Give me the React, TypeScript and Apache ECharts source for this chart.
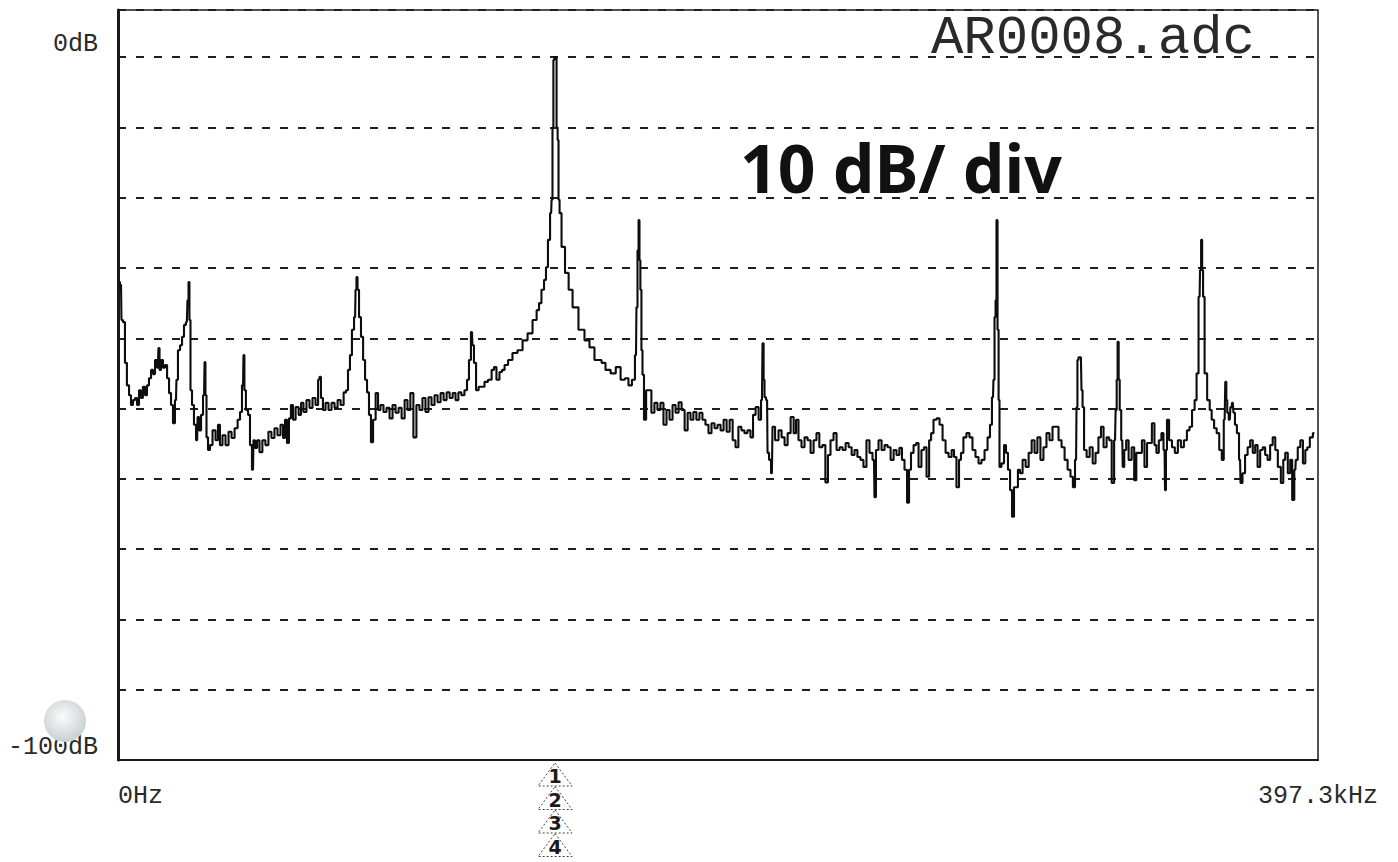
import React, { useEffect, useRef } from "react";
import * as echarts from "echarts";

// Spectrum trace: frequency (kHz) and level (dB)
const freqKHz = [
  0.3, 1.0, 1.3, 2.0, 2.6, 3.3, 4.0, 4.6, 5.3, 6.0, 6.6, 7.3, 7.9, 8.6, 9.3, 9.9, 10.6, 11.3, 11.9, 12.6,
  13.2, 13.6, 13.9, 14.6, 15.2, 15.9, 16.6, 17.2, 17.9, 18.5, 19.2, 19.5, 20.2, 20.9, 21.5, 22.2, 22.8, 23.2, 23.5, 23.8,
  24.2, 24.8, 25.5, 26.2, 26.5, 27.2, 27.8, 28.5, 28.8, 29.1, 29.5, 30.1, 30.8, 31.8, 32.8, 33.4, 34.1, 35.1, 36.1, 37.1,
  38.1, 39.1, 40.1, 40.7, 41.4, 41.7, 42.0, 42.7, 43.4, 44.0, 44.7, 45.0, 45.7, 46.4, 47.3, 48.3, 49.3, 50.3, 51.3, 52.3,
  53.3, 54.3, 55.0, 55.6, 56.3, 56.9, 57.6, 58.3, 59.3, 60.3, 60.9, 61.9, 62.9, 63.9, 64.9, 65.9, 66.6, 66.9, 67.5, 68.2,
  69.2, 70.2, 71.2, 72.2, 73.2, 74.2, 75.2, 75.8, 76.5, 77.1, 77.8, 78.5, 78.8, 79.1, 79.5, 80.1, 80.8, 81.5, 82.1, 82.8,
  83.4, 84.1, 84.8, 85.8, 86.4, 87.4, 88.4, 89.4, 90.4, 91.4, 92.4, 93.4, 94.4, 95.4, 96.3,
  97.3, 98.3, 99.3, 100.3, 101.3, 102.3, 103.3, 104.3, 105.3, 106.3, 107.3, 108.3, 109.3, 110.3, 111.3, 112.2, 113.2, 114.2, 115.2, 115.9,
  116.5, 117.2, 117.5, 118.2, 118.9, 119.9, 120.9, 121.8, 123.2, 124.2, 124.8, 125.8, 126.8, 127.5, 128.5, 129.8, 131.4, 133.1, 134.8, 136.4,
  138.1, 139.1, 139.7, 140.7, 141.4, 142.0, 142.7, 143.4, 143.7, 144.0, 144.3, 144.7, 145.0, 145.4, 145.7, 146.0, 146.4, 147.3, 148.7, 149.7,
  151.3, 153.6, 155.3, 156.9, 158.6, 159.6, 160.6, 162.2, 164.0, 165.6, 167.2, 168.5, 169.5, 170.8, 171.5, 171.8, 172.2, 172.5, 172.8, 173.1,
  173.5, 173.8, 174.5, 175.2,
  176.1, 177.1, 178.1, 179.1, 180.1, 181.1, 182.1, 183.1, 184.1, 185.1, 186.1, 187.1, 188.1, 189.1, 190.0, 191.0, 192.0, 193.0, 194.0, 195.0,
  196.0, 197.0, 198.0, 199.0, 200.0, 201.0, 202.0, 203.0, 204.0, 204.9, 205.9, 206.9, 207.9, 208.9, 209.9, 210.6, 211.6, 212.6, 213.2, 213.6,
  213.9, 214.2, 214.9, 215.2, 215.9, 216.5, 216.9, 218.2, 219.2, 220.2, 221.2, 222.2, 223.2, 224.2, 224.8, 225.8, 226.8, 227.8, 228.8, 229.8,
  230.8, 231.7, 232.7, 233.7, 234.7, 235.4, 236.4, 237.4, 238.4, 239.4, 240.4, 241.4, 242.4, 243.4, 244.3, 245.3, 246.3, 247.3, 248.3, 249.3,
  250.3, 250.6, 251.3, 252.3, 253.3, 254.3, 255.3, 256.3, 257.3, 258.2,
  259.2, 259.9, 260.9, 261.6, 262.2, 262.9, 263.9, 264.6, 265.5, 266.5, 267.2, 268.2, 268.9, 269.5, 270.5, 271.5, 272.5, 273.5, 274.5, 275.5,
  276.5, 277.1, 278.1, 278.8, 279.4, 280.4, 281.4, 282.4, 283.4, 284.4, 285.4, 286.4, 287.4, 288.4, 289.0, 289.7, 290.0, 290.4, 290.7, 291.0,
  291.4, 291.7, 292.0, 293.0, 293.7, 294.3, 295.0, 295.7, 296.3, 297.0, 297.6, 298.3, 299.0, 300.0, 301.0, 302.0, 303.0, 303.9, 304.9, 305.9,
  306.9, 307.9, 308.9, 309.9, 310.9, 311.9, 312.9, 313.9, 314.9, 315.8, 316.5, 317.2, 317.5, 317.8, 318.2, 318.8, 319.2, 319.5, 320.2, 321.2,
  322.2, 323.2, 324.1, 325.1, 325.8, 326.8, 327.8, 328.5, 329.5, 330.1, 330.5, 330.8, 331.1, 331.5, 331.8, 332.5, 332.8, 333.5, 334.1, 335.1,
  336.1, 336.8, 337.5, 338.5, 339.5, 340.2, 341.2, 341.8, 342.8, 343.5, 344.1, 345.1, 345.8, 346.5, 346.8, 347.1, 347.5, 348.5, 349.4, 350.4,
  351.4, 352.4, 353.4, 354.4, 355.1, 356.1, 356.8, 357.4, 358.1, 358.4, 358.8, 359.1, 359.4, 360.1, 361.1, 361.8, 362.4, 363.4, 364.1, 365.1,
  365.8, 366.4, 366.8, 367.1, 367.4, 368.1, 368.5, 369.1, 369.5, 370.1, 370.8, 371.5, 371.8, 372.8, 373.5, 374.5, 375.2, 376.2, 376.8, 377.8,
  378.5, 379.5, 380.1, 381.1, 381.8, 382.8, 383.5, 384.5, 385.5, 386.1, 386.8, 387.8, 388.4, 389.1, 389.8, 390.1, 391.1, 391.8, 392.8, 393.4,
  394.1, 395.1, 396.1,
];

const levelDb = [
  -32.0, -32.4, -37.4, -37.7, -43.5, -46.7, -48.1, -49.5, -48.8, -48.5, -49.5, -47.4, -48.5, -46.9, -48.1, -46.7, -45.7, -44.5, -45.1, -43.1,
  -44.2, -41.4, -44.5, -43.1, -44.2, -43.8, -45.7, -47.8, -49.5, -52.1, -48.8, -45.9, -41.7, -41.0, -39.8, -38.1, -37.7, -34.6, -32.0, -37.4,
  -47.4, -49.5, -52.3, -54.5, -51.2, -53.1, -50.9, -48.1, -43.4, -48.1, -54.1, -55.9, -55.2, -53.1, -54.5, -52.3, -55.2, -53.8, -55.2, -53.3,
  -54.2, -52.8, -51.6, -50.5, -46.7, -42.4, -47.4, -50.2, -50.9, -55.2, -58.7, -54.5, -55.6, -54.5, -56.2, -54.5, -55.2, -53.3, -54.2, -52.8,
  -53.8, -52.3, -54.2, -51.6, -54.9, -51.4, -49.5, -51.6, -49.8, -50.9, -49.2, -50.5, -48.8, -49.9, -48.5, -49.5, -45.9, -45.5, -48.5, -50.2,
  -49.2, -50.2, -49.2, -49.9, -48.8, -49.5, -47.7, -47.4, -44.5, -42.4, -38.8, -37.0, -33.1, -31.3, -33.1, -37.0, -39.8, -43.1, -45.9, -47.7,
  -50.9, -54.8, -51.6, -47.8, -50.2, -49.5, -50.5, -49.9, -51.4, -49.5, -50.6, -49.9, -51.4, -48.8, -50.2,
  -47.8, -54.1, -49.5, -50.2, -48.5, -50.5, -48.4, -49.5, -48.1, -49.1, -47.8, -48.8, -47.7, -48.5, -47.8, -48.8, -47.7, -48.1, -47.4, -45.9,
  -43.1, -39.1, -41.0, -43.5, -47.4, -46.9, -46.9, -46.2, -45.9, -44.5, -44.1, -45.9, -44.8, -44.5, -43.8, -43.1, -42.1, -41.7, -40.3, -39.3,
  -37.4, -36.0, -35.0, -33.1, -31.7, -29.9, -26.0, -22.2, -20.3, -10.0, -0.4, 0.0, 0.0, -10.0, -11.8, -20.3, -22.2, -27.0, -30.7, -33.1,
  -35.6, -38.8, -40.3, -41.3, -43.1, -43.1, -43.5, -44.5, -45.0, -44.1, -45.9, -45.7, -46.7, -45.9, -42.4, -35.6, -27.5, -23.2, -28.9, -33.1,
  -41.7, -45.2, -51.6, -47.4,
  -47.4, -50.6, -49.2, -50.2, -49.2, -52.3, -50.2, -51.6, -49.5, -50.6, -49.1, -50.2, -53.1, -50.6, -51.6, -50.5, -51.6, -50.6, -51.6, -52.3,
  -53.5, -52.1, -52.8, -52.3, -53.1, -51.6, -53.3, -51.6, -54.5, -55.5, -52.6, -53.1, -53.5, -53.1, -54.1, -50.9, -49.8, -51.6, -48.8, -40.7,
  -45.9, -48.4, -48.8, -56.3, -57.3, -59.2, -52.6, -54.5, -53.1, -54.1, -55.2, -53.5, -51.2, -53.5, -51.6, -54.5, -55.5, -54.1, -54.5, -56.3,
  -54.5, -53.5, -55.5, -55.2, -60.5, -56.6, -54.5, -53.5, -55.9, -55.5, -55.9, -54.9, -55.5, -56.6, -55.9, -56.9, -57.3, -58.3, -54.5, -56.3,
  -57.3, -62.6, -55.9, -54.5, -55.9, -55.2, -55.5, -57.3, -55.9, -56.6,
  -55.6, -57.3, -58.7, -63.4, -58.7, -56.3, -55.2, -54.9, -58.3, -55.9, -55.5, -59.7, -54.5, -53.5, -51.6, -51.4, -52.3, -54.5, -56.3, -56.9,
  -55.9, -56.9, -61.2, -57.3, -56.3, -54.1, -53.5, -54.1, -55.9, -56.9, -57.8, -57.3, -55.9, -54.1, -52.3, -48.4, -45.9, -37.0, -34.6, -23.2,
  -38.8, -48.8, -58.3, -57.8, -55.2, -56.3, -58.7, -61.6, -65.4, -61.2, -61.2, -58.7, -59.2, -57.3, -58.3, -56.3, -54.5, -56.3, -54.1, -57.3,
  -55.5, -53.5, -54.5, -52.6, -52.6, -54.5, -55.5, -57.3, -58.7, -59.7, -61.2, -57.3, -49.8, -43.1, -42.7, -42.7, -47.4, -49.8, -55.9, -56.9,
  -55.5, -57.8, -56.3, -54.1, -52.6, -55.5, -54.1, -54.5, -60.6, -54.5, -50.2, -45.9, -40.5, -45.9, -50.2, -54.5, -58.3, -55.9, -54.5, -57.3,
  -55.5, -60.2, -56.3, -56.3, -54.5, -58.3, -54.9, -54.9, -52.1, -55.2, -56.3, -54.5, -53.5, -55.9, -61.6, -55.9, -51.6, -54.5, -55.5, -56.3,
  -54.5, -55.5, -54.5, -53.1, -52.6, -50.2, -48.8, -45.0, -34.1, -30.3, -26.0, -30.3, -34.1, -45.0, -48.8, -50.2, -51.6, -52.8, -53.5, -55.9,
  -57.3, -51.6, -46.2, -48.8, -50.6, -51.6, -49.8, -49.2, -50.6, -52.3, -53.5, -57.3, -60.6, -59.2, -56.6, -55.5, -54.5, -56.3, -55.2, -58.3,
  -55.9, -55.5, -56.6, -57.3, -55.2, -54.1, -55.9, -58.3, -60.6, -57.3, -56.3, -59.2, -57.3, -63.0, -58.7, -57.3, -55.5, -54.5, -57.8, -55.9,
  -55.5, -54.1, -53.5,
];

const yTickLabels: Record<number, string> = { 0: "0dB", [-100]: "-100dB" };
const xTickLabels = ["0Hz", "397.3kHz"];
const xMaxKHz = 397.3;
const yMinDb = -100;
const yMaxDb = 6.7;
const fileName = "AR0008.adc";
const scaleNote = "10 dB/ div";
const markerFreqKHz = 144.7;
const markerIds = ["1", "2", "3", "4"];

export default function App() {
  const ref = useRef<HTMLDivElement>(null);

  useEffect(() => {
    if (!ref.current) return;
    const chart = echarts.init(ref.current, undefined, { renderer: "svg" });
    const mono = "'Liberation Mono', 'DejaVu Sans Mono', monospace";
    const data = freqKHz.map((f, i) => [f, levelDb[i]]);

    chart.setOption({
      animation: false,
      backgroundColor: "#ffffff",
      title: {
        text: fileName,
        right: 138,
        top: 6,
        textStyle: { fontFamily: mono, fontSize: 54, fontWeight: "normal", color: "#2a2a2a" },
      },
      grid: {
        left: 118,
        right: 80,
        top: 10,
        bottom: 102,
        show: true,
        borderColor: "#1a1a1a",
        borderWidth: 1.5,
        backgroundColor: "transparent",
      },
      xAxis: {
        type: "value",
        min: 0,
        max: xMaxKHz,
        interval: xMaxKHz,
        axisLine: { show: true, onZero: false, lineStyle: { color: "#1a1a1a", width: 2 } },
        axisTick: { show: false },
        splitLine: { show: false },
        axisLabel: {
          margin: 24,
          fontFamily: mono,
          fontSize: 25,
          color: "#2a2a2a",
          showMinLabel: true,
          showMaxLabel: true,
          alignMinLabel: "left",
          alignMaxLabel: "center",
          formatter: (v: number) => (v === 0 ? xTickLabels[0] : xTickLabels[1]),
        },
      },
      yAxis: {
        type: "value",
        min: yMinDb,
        max: yMaxDb,
        interval: 10,
        axisLine: { show: true, lineStyle: { color: "#1a1a1a", width: 3 } },
        axisTick: { show: false },
        splitLine: {
          show: true,
          lineStyle: { color: "#1f1f1f", width: 1.8, type: [8, 10] },
        },
        axisLabel: {
          margin: 20,
          fontFamily: mono,
          fontSize: 25,
          color: "#2a2a2a",
          verticalAlign: "bottom",
          formatter: (v: number) => yTickLabels[v] ?? "",
        },
      },
      series: [
        {
          type: "line",
          data,
          step: "middle",
          symbol: "none",
          lineStyle: { color: "#0d0d0d", width: 2.1 },
        },
      ],
    });

    const px = chart.convertToPixel({ xAxisIndex: 0 }, markerFreqKHz) as number;
    const axisY = chart.convertToPixel({ yAxisIndex: 0 }, yMinDb) as number;
    const markers = markerIds.map((id, i) => {
      const top = axisY + 3 + i * 23.5;
      return {
        type: "group",
        children: [
          {
            type: "polygon",
            shape: { points: [[px, top], [px + 17, top + 23], [px - 17, top + 23]] },
            style: { fill: "transparent", stroke: "#444", lineWidth: 1, lineDash: [2, 2] },
          },
          {
            type: "text",
            x: px,
            y: top + 13,
            style: {
              text: id,
              fontFamily: "'DejaVu Sans', sans-serif",
              fontSize: 19,
              fontWeight: "bold",
              fill: "#1a1a1a",
              align: "center",
              verticalAlign: "middle",
            },
          },
        ],
      };
    });

    chart.setOption({
      graphic: [
        {
          type: "text",
          left: 740,
          top: 134,
          style: {
            text: scaleNote,
            fontFamily: "'Noto Sans', sans-serif",
            fontSize: 66,
            fontWeight: "bold",
            fill: "#111",
          },
        },
        {
          type: "circle",
          shape: { cx: 65, cy: 721, r: 21 },
          style: {
            fill: new echarts.graphic.RadialGradient(0.45, 0.4, 0.6, [
              { offset: 0, color: "#fbfbfb" },
              { offset: 1, color: "#c9cfcf" },
            ]),
          },
          z: 100,
        },
        ...markers,
      ],
    });

    return () => chart.dispose();
  }, []);

  return <div ref={ref} style={{ position: "fixed", left: 0, top: 0, width: 1398, height: 862 }} />;
}
